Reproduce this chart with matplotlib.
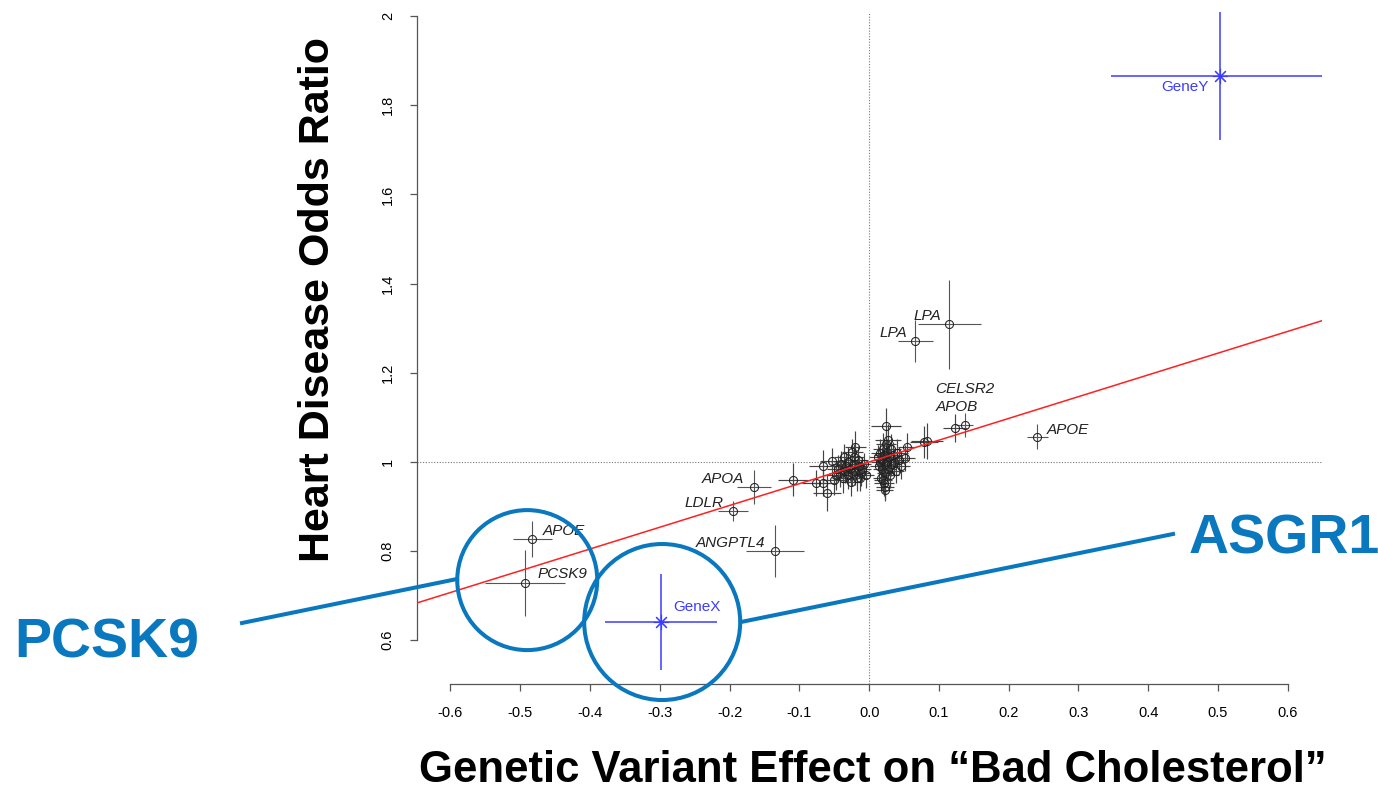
import matplotlib
matplotlib.use("Agg")
import matplotlib.pyplot as plt
from matplotlib.lines import Line2D
import numpy as np

plt.rcParams['font.family'] = ['Liberation Sans', 'DejaVu Sans']

# ---- data ----
# labelled genes: name, x, y, x error, y error
lab_names = ["APOE", "PCSK9", "ANGPTL4", "LDLR", "APOA", "LPA", "LPA", "APOB", "APOE"]
lab_x = [-0.483, -0.493, -0.135, -0.195, -0.165, 0.115, 0.066, 0.137, 0.241]
lab_y = [0.827, 0.729, 0.800, 0.890, 0.944, 1.309, 1.271, 1.083, 1.056]
lab_xerr = [0.028, 0.057, 0.041, 0.021, 0.024, 0.045, 0.025, 0.012, 0.015]
lab_yerr = [0.040, 0.074, 0.058, 0.022, 0.038, 0.100, 0.047, 0.027, 0.028]

# other (unlabelled) variants
oth_x = [-0.109, -0.076, -0.066, -0.060, -0.066, -0.053, -0.020, -0.024, -0.013,
         -0.045, -0.042, -0.040, -0.038, -0.035, -0.033, -0.030, -0.030, -0.028,
         -0.025, -0.022, -0.020, -0.018, -0.016, -0.015, -0.012, -0.010, -0.008,
         -0.005, -0.048, -0.050, -0.036, -0.026, -0.021,
         0.024, 0.027, 0.083, 0.078, 0.054, 0.052, 0.021, 0.023, 0.022, 0.123,
         0.012, 0.014, 0.016, 0.018, 0.019, 0.020, 0.021, 0.022, 0.023, 0.024,
         0.025, 0.026, 0.027, 0.028, 0.030, 0.031, 0.032, 0.034, 0.036, 0.038,
         0.040, 0.043, 0.046, 0.017, 0.020, 0.015]
oth_y = [0.960, 0.953, 0.953, 0.930, 0.991, 1.002, 1.034, 1.022, 0.964,
         0.985, 0.975, 0.995, 0.965, 0.980, 0.990, 0.970, 1.000, 0.985,
         0.975, 0.995, 0.980, 0.965, 1.005, 0.990, 0.975, 0.985, 0.995,
         0.970, 0.970, 0.960, 1.010, 0.955, 1.012,
         1.081, 1.049, 1.047, 1.045, 1.034, 1.009, 0.953, 0.944, 0.938, 1.076,
         1.010, 0.990, 1.020, 1.005, 0.985, 1.030, 1.015, 0.995, 0.975, 1.040,
         1.000, 1.020, 0.985, 1.010, 0.970, 1.030, 0.995, 1.015, 1.000, 0.980,
         1.020, 1.005, 0.990, 0.965, 0.960, 1.000]
oth_xerr = [0.021, 0.020, 0.018, 0.020, 0.020, 0.018, 0.015, 0.015, 0.012,
            0.015, 0.016, 0.014, 0.015, 0.013, 0.016, 0.014, 0.015, 0.013,
            0.014, 0.012, 0.015, 0.013, 0.014, 0.012, 0.013, 0.012, 0.011,
            0.012, 0.016, 0.017, 0.014, 0.015, 0.013,
            0.021, 0.018, 0.023, 0.020, 0.012, 0.014, 0.014, 0.013, 0.012, 0.017,
            0.012, 0.013, 0.014, 0.012, 0.013, 0.015, 0.014, 0.013, 0.012, 0.014,
            0.013, 0.015, 0.012, 0.014, 0.013, 0.015, 0.012, 0.014, 0.013, 0.012,
            0.015, 0.014, 0.013, 0.012, 0.013, 0.012]
oth_yerr = [0.037, 0.030, 0.030, 0.040, 0.035, 0.030, 0.035, 0.030, 0.030,
            0.030, 0.032, 0.030, 0.035, 0.028, 0.033, 0.030, 0.034, 0.028,
            0.030, 0.027, 0.032, 0.030, 0.030, 0.026, 0.028, 0.027, 0.025,
            0.028, 0.032, 0.034, 0.030, 0.032, 0.028,
            0.040, 0.035, 0.040, 0.036, 0.030, 0.030, 0.030, 0.028, 0.026, 0.031,
            0.028, 0.030, 0.032, 0.028, 0.030, 0.034, 0.030, 0.028, 0.027, 0.033,
            0.028, 0.032, 0.027, 0.030, 0.029, 0.033, 0.027, 0.030, 0.028, 0.027,
            0.032, 0.029, 0.028, 0.027, 0.030, 0.028]

# hypothetical genes (blue)
hyp_names = ["GeneX", "GeneY"]
hyp_x = [-0.298, 0.503]
hyp_y = [0.641, 1.865]
hyp_xerr = [0.080, 0.157]
hyp_yerr = [0.107, 0.143]

# regression line through (0,1)
line_intercept = 1.0
line_slope = 0.488

x_ticks = [-0.6, -0.5, -0.4, -0.3, -0.2, -0.1, 0.0, 0.1, 0.2, 0.3, 0.4, 0.5, 0.6]
y_ticks = [0.6, 0.8, 1.0, 1.2, 1.4, 1.6, 1.8, 2.0]
y_tick_labels = ["0.6", "0.8", "1", "1.2", "1.4", "1.6", "1.8", "2"]

# ---- figure ----
W, H = 1378, 792
fig = plt.figure(figsize=(W / 100, H / 100), dpi=100)
ax = fig.add_axes([417 / W, 1 - 684 / H, 905 / W, 672 / H])
ax.set_xlim(-0.648, 0.649)
ax.set_ylim(0.502, 2.009)

# reference dotted lines
ax.axvline(0, color='#777777', lw=0.8, ls=(0, (1, 1.5)), zorder=1)
ax.axhline(1, color='#777777', lw=0.8, ls=(0, (1, 1.5)), zorder=1)

ebar_col = '#444444'
ax.errorbar(oth_x, oth_y, xerr=oth_xerr, yerr=oth_yerr, fmt='o', ms=5.8,
            mfc='none', mec='#222222', mew=0.75, ecolor=ebar_col, elinewidth=0.85,
            capsize=0, zorder=3)
ax.errorbar(lab_x, lab_y, xerr=lab_xerr, yerr=lab_yerr, fmt='o', ms=5.8,
            mfc='none', mec='#222222', mew=0.75, ecolor='#555555', elinewidth=0.8,
            capsize=0, zorder=3)

blue = '#3c3cff'
ax.errorbar(hyp_x, hyp_y, xerr=hyp_xerr, yerr=hyp_yerr, fmt='none',
            ecolor=blue, elinewidth=1.1, capsize=0, zorder=4)
ax.plot(hyp_x, hyp_y, ls='none', marker=(8, 2, 0), ms=11, mec=blue, mew=0.8, zorder=5)

# regression line
xl = np.array(ax.get_xlim())
ax.plot(xl, line_intercept + line_slope * xl, color='#ff2020', lw=1.1, zorder=4)

# labels of genes
lab_off = [(8, 6, 'left'), (9, 6, 'left'), (-7, 6, 'right'), (-7, 6, 'right'),
           (-7, 6, 'right'), (-6, 6, 'right'), (-6, 6, 'right'), (-21, 13, 'left'),
           (7, 5, 'left')]
for n, x, y, (dx, dy, ha) in zip(lab_names, lab_x, lab_y, lab_off):
    ax.annotate(n, (x, y), xytext=(dx, dy), textcoords='offset points', ha=ha,
                va='center', fontsize=11, style='italic', color='#222222')
ax.annotate("CELSR2", (lab_x[7], lab_y[7]), xytext=(-21, 26), textcoords='offset points',
            ha='left', va='center', fontsize=11, style='italic', color='#222222')
hyp_off = [(9, 11, 'left'), (-8, -8, 'right')]
for n, x, y, (dx, dy, ha) in zip(hyp_names, hyp_x, hyp_y, hyp_off):
    ax.annotate(n, (x, y), xytext=(dx, dy), textcoords='offset points', ha=ha,
                va='center', fontsize=11, color=blue)

# axes styling (R style)
for s in ['top', 'right']:
    ax.spines[s].set_visible(False)
ax.spines['left'].set_bounds(0.6, 2.0)
ax.spines['bottom'].set_bounds(-0.6, 0.6)
for s in ['left', 'bottom']:
    ax.spines[s].set_color('#555555')
    ax.spines[s].set_linewidth(0.9)
ax.set_xticks(x_ticks)
ax.set_xticklabels([f"{v:.1f}" for v in x_ticks])
ax.set_yticks(y_ticks)
ax.set_yticklabels(y_tick_labels, rotation=90, va='center')
ax.tick_params(axis='both', direction='out', length=5, width=0.9, color='#555555',
               labelsize=10.5, pad=11)

fig.text(318 / W, 1 - 300 / H, "Heart Disease Odds Ratio", rotation=90, ha='center',
         va='center', fontsize=31, fontweight='bold')
fig.text(873 / W, 1 - 771 / H, "Genetic Variant Effect on \u201cBad Cholesterol\u201d",
         ha='center', va='center', fontsize=31.4, fontweight='bold')

# callout annotations
callout = '#0a78be'
ax.scatter([-0.49], [0.735], s=(2 * 70 * 0.72) ** 2, facecolors='none',
           edgecolors=callout, linewidths=2.9, clip_on=False, zorder=6)
ax.scatter([-0.2966], [0.641], s=(2 * 78 * 0.72) ** 2, facecolors='none',
           edgecolors=callout, linewidths=2.9, clip_on=False, zorder=6)
fig.add_artist(Line2D([242 / W, 457 / W], [1 - 623 / H, 1 - 579 / H], color=callout, lw=2.9))
fig.add_artist(Line2D([741 / W, 1173 / W], [1 - 622 / H, 1 - 534 / H], color=callout, lw=2.9))
fig.text(107 / W, 1 - 644 / H, "PCSK9", ha='center', va='center', fontsize=40,
         fontweight='bold', color=callout)
fig.text(1284 / W, 1 - 540 / H, "ASGR1", ha='center', va='center', fontsize=40,
         fontweight='bold', color=callout)

fig.savefig("out.png", dpi=100)
